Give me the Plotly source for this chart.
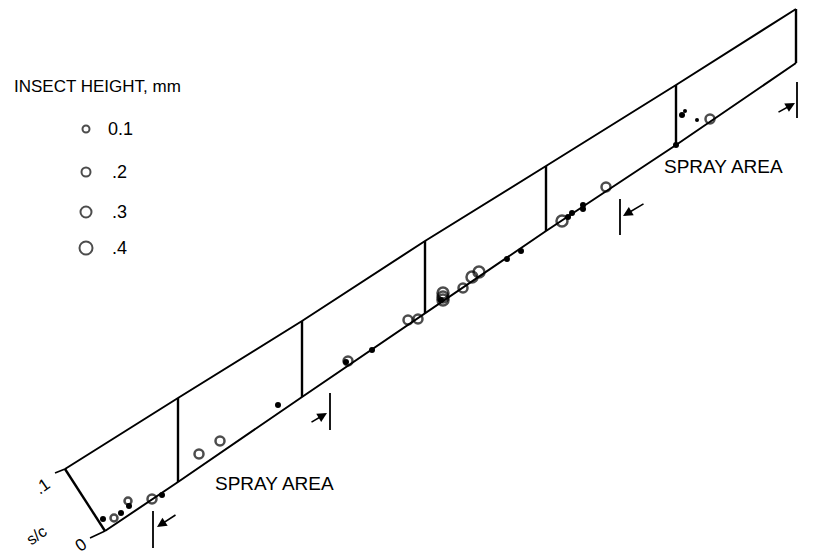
import plotly.graph_objects as go

# ---- drawing geometry (drawing coordinates: x right, y down) ----
station_x_top = [65, 178, 302, 425, 546, 676, 796]
station_y_top = [469, 398, 321, 241, 166, 85, 9]
station_x_bot = [105, 178, 302, 425, 546, 676, 796]
station_y_bot = [531, 482, 397, 313, 231, 145, 63]

# ---- insect data ----
open_x = [114, 128, 152, 199, 220, 348, 408, 418, 443, 443, 443, 463, 472, 479, 562, 606, 710]
open_y = [518, 501, 499, 454, 441, 361, 320, 319, 293, 297, 300, 288, 277, 272, 221, 187, 119]
open_h = [0.1, 0.1, 0.2, 0.2, 0.2, 0.2, 0.2, 0.2, 0.3, 0.3, 0.3, 0.2, 0.3, 0.3, 0.3, 0.2, 0.2]

dot_x = [103, 121, 129, 162, 278, 346, 372, 441, 507, 521, 568, 572, 583, 583, 682, 676]
dot_y = [519, 513, 506, 495, 405, 362, 350, 300, 259, 251, 217, 213, 205, 209, 115, 145]
small_dot_x = [685, 697]
small_dot_y = [111, 120]

# ---- legend ----
legend_heights = [0.1, 0.2, 0.3, 0.4]
legend_labels = ["0.1", ".2", ".3", ".4"]
legend_y = [129, 172, 212, 248]
legend_label_right = [135, 129, 129, 129]

FONT = "Liberation Sans, Arial, sans-serif"
INK = "#000000"
PAGE_MARGIN = 8  # default body margin of the html page


def size_of(h):
    return 5 + 20 * h


fig = go.Figure()

# outline: top and bottom lines
fig.add_trace(go.Scatter(x=station_x_top, y=station_y_top, mode="lines",
                         line=dict(color=INK, width=2), hoverinfo="skip"))
fig.add_trace(go.Scatter(x=station_x_bot, y=station_y_bot, mode="lines",
                         line=dict(color=INK, width=2), hoverinfo="skip"))
# stations (dividers + ends)
div_x, div_y = [], []
for xt, yt, xb, yb in zip(station_x_top, station_y_top, station_x_bot, station_y_bot):
    div_x += [xt, xb, None]
    div_y += [yt, yb, None]
fig.add_trace(go.Scatter(x=div_x, y=div_y, mode="lines",
                         line=dict(color=INK, width=2.4), hoverinfo="skip"))

# s/c ticks
sc_tick_x = [55, 65, None, 90, 105]
sc_tick_y = [473, 469, None, 538, 531]
fig.add_trace(go.Scatter(x=sc_tick_x, y=sc_tick_y, mode="lines",
                         line=dict(color=INK, width=1.6), hoverinfo="skip"))

# spray-area limit ticks
spray_x = [153, 330, 620, 797]
spray_y0 = [511, 393, 199, 82]
spray_y1 = [548, 430, 235, 118]
sx, sy = [], []
for x0, a, b in zip(spray_x, spray_y0, spray_y1):
    sx += [x0, x0, None]
    sy += [a, b, None]
fig.add_trace(go.Scatter(x=sx, y=sy, mode="lines",
                         line=dict(color=INK, width=1.8), hoverinfo="skip"))

# insects
fig.add_trace(go.Scatter(x=open_x, y=open_y, mode="markers",
                         marker=dict(symbol="circle-open", size=[size_of(h) for h in open_h],
                                     color=INK, line=dict(width=2.5)),
                         hoverinfo="skip"))
fig.add_trace(go.Scatter(x=dot_x, y=dot_y, mode="markers",
                         marker=dict(symbol="circle", size=6, color=INK),
                         hoverinfo="skip"))
fig.add_trace(go.Scatter(x=small_dot_x, y=small_dot_y, mode="markers",
                         marker=dict(symbol="circle", size=4, color=INK),
                         hoverinfo="skip"))

# legend markers
fig.add_trace(go.Scatter(x=[86] * len(legend_heights), y=legend_y, mode="markers",
                         marker=dict(symbol="circle-open", size=[size_of(h) for h in legend_heights],
                                     color=INK, line=dict(width=2)),
                         hoverinfo="skip"))

ann = []
ann.append(dict(x=12, y=86, text="INSECT HEIGHT, mm", xanchor="left", yanchor="middle",
                showarrow=False, font=dict(family=FONT, size=17, color=INK)))
for lab, yy, xr in zip(legend_labels, legend_y, legend_label_right):
    ann.append(dict(x=xr, y=yy, text=lab, xanchor="right", yanchor="middle",
                    showarrow=False, font=dict(family=FONT, size=18, color=INK)))

ann.append(dict(x=213, y=483, text="SPRAY AREA", xanchor="left", yanchor="middle",
                showarrow=False, font=dict(family=FONT, size=19, color=INK)))
ann.append(dict(x=662, y=166, text="SPRAY AREA", xanchor="left", yanchor="middle",
                showarrow=False, font=dict(family=FONT, size=19, color=INK)))

# s/c labels
ann.append(dict(x=42, y=486, text=".1", showarrow=False, textangle=-35,
                font=dict(family=FONT, size=17, color=INK)))
ann.append(dict(x=36, y=535, text="s/c", showarrow=False, textangle=-35,
                font=dict(family=FONT, size=16, color=INK)))
ann.append(dict(x=80, y=545, text="0", showarrow=False, textangle=-35,
                font=dict(family=FONT, size=17, color=INK)))

# arrows pointing to spray limits
arrow_head = [(157, 527), (327, 413), (623, 216), (795, 103)]
arrow_tail = [(177, 514), (310, 423), (645, 203), (777, 113)]
for (hx, hy), (tx, ty) in zip(arrow_head, arrow_tail):
    ann.append(dict(x=hx, y=hy, ax=tx, ay=ty, xref="x", yref="y", axref="x", ayref="y",
                    text="", showarrow=True, arrowhead=2, arrowsize=1.2, arrowwidth=1.6,
                    arrowcolor=INK))

fig.update_layout(
    width=813 - PAGE_MARGIN, height=559 - PAGE_MARGIN,
    margin=dict(l=0, r=0, t=0, b=0),
    paper_bgcolor="white", plot_bgcolor="white",
    showlegend=False,
    xaxis=dict(range=[PAGE_MARGIN, 813], visible=False, fixedrange=True),
    yaxis=dict(range=[559, PAGE_MARGIN], visible=False, fixedrange=True),
    annotations=ann,
)

fig.write_html("out.html")
